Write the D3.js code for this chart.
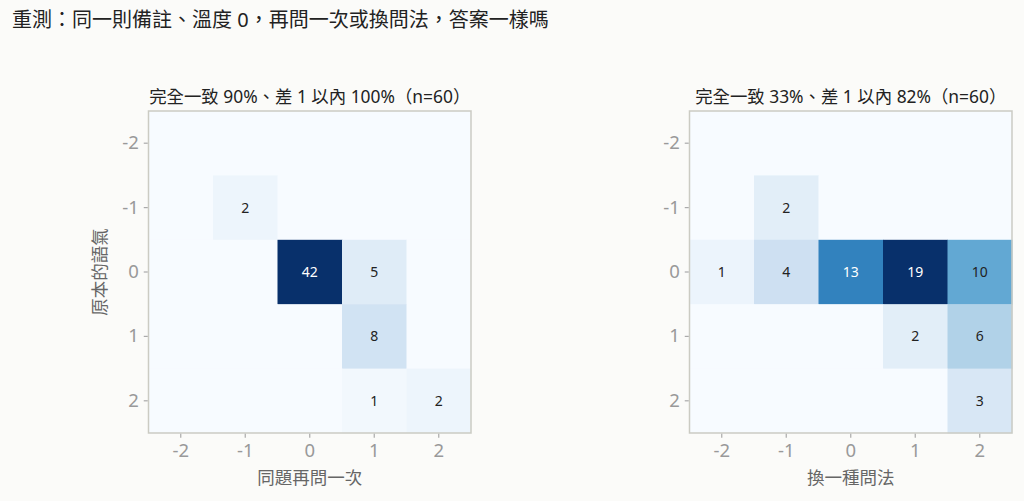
<!DOCTYPE html>
<html lang="zh-Hant-TW"><head><meta charset="utf-8">
<script src="https://cdn.jsdelivr.net/npm/d3@7"></script>
<style>
body{margin:0;background:#fbfbf9;}
svg{display:block;font-family:"Noto Sans","Noto Sans CJK TC",sans-serif;}
</style></head>
<body><svg id="c" width="1024" height="501" lang="zh-Hant-TW"></svg>
<script>
const title = "重測：同一則備註、溫度 0，再問一次或換問法，答案一樣嗎";
const levels = [-2, -1, 0, 1, 2];
const yLabel = "原本的語氣";
const leftTitle = "完全一致 90%、差 1 以內 100%（n=60）";
const leftXLabel = "同題再問一次";
// rows: original -2..2, cols: retest -2..2
const leftMatrix = [
  [0, 0, 0, 0, 0],
  [0, 2, 0, 0, 0],
  [0, 0, 42, 5, 0],
  [0, 0, 0, 8, 0],
  [0, 0, 0, 1, 2]
];
const rightTitle = "完全一致 33%、差 1 以內 82%（n=60）";
const rightXLabel = "換一種問法";
const rightMatrix = [
  [0, 0, 0, 0, 0],
  [0, 2, 0, 0, 0],
  [1, 4, 13, 19, 10],
  [0, 0, 0, 2, 6],
  [0, 0, 0, 0, 3]
];
const bluesStops = ["#f7fbff","#deebf7","#c6dbef","#9ecae1","#6baed6","#4292c6","#2171b5","#08519c","#08306b"];

const FONT = '"Noto Sans","Noto Sans CJK TC",sans-serif';
const svg = d3.select("#c");
svg.append("text").attr("x", 12).attr("y", 27).style("font-size", "20px").attr("fill", "#222").text(title);

function panel(x0, x1, y0, y1, matrix, sub, xlab, showY) {
  const g = svg.append("g");
  const x = d3.scaleBand().domain(levels).range([x0, x1]);
  const y = d3.scaleBand().domain(levels).range([y0, y1]);
  const vmax = d3.max(matrix.flat());
  const color = d3.scaleLinear()
    .domain(bluesStops.map((d, i) => i / (bluesStops.length - 1) * vmax))
    .range(bluesStops).interpolate(d3.interpolateRgb);
  const cells = [];
  matrix.forEach((row, i) => row.forEach((v, j) => cells.push({r: levels[i], c: levels[j], v})));
  g.selectAll("rect.cell").data(cells).join("rect")
    .attr("x", d => x(d.c)).attr("y", d => y(d.r))
    .attr("width", x.bandwidth() + 0.5).attr("height", y.bandwidth() + 0.5)
    .attr("fill", d => color(d.v));
  g.selectAll("text.val").data(cells.filter(d => d.v > 0)).join("text")
    .attr("x", d => x(d.c) + x.bandwidth() / 2).attr("y", d => y(d.r) + y.bandwidth() / 2)
    .attr("dy", "0.35em").attr("text-anchor", "middle").style("font-size", "14px")
    .attr("fill", d => d.v > vmax * 0.6 ? "#ffffff" : "#222")
    .text(d => d.v);
  g.append("rect").attr("x", x0).attr("y", y0).attr("width", x1 - x0).attr("height", y1 - y0)
    .attr("fill", "none").attr("stroke", "#cbcbc3").attr("stroke-width", 1.5);
  const xa = g.append("g").attr("transform", `translate(0,${y1 + 0.75})`)
    .call(d3.axisBottom(x).tickSize(4).tickPadding(6));
  const ya = g.append("g").attr("transform", `translate(${x0 - 0.75},0)`)
    .call(d3.axisLeft(y).tickSize(4).tickPadding(5));
  [xa, ya].forEach(a => {
    a.attr("font-size", null).attr("font-family", null);
    a.select(".domain").remove();
    a.selectAll("line").attr("stroke", "#aaa").attr("stroke-width", 1.2);
    a.selectAll("text").attr("fill", "#999").attr("font-size", 18.5).style("font-size", "18.5px").style("font-family", FONT);
  });
  g.append("text").attr("x", (x0 + x1) / 2).attr("y", 103).attr("text-anchor", "middle")
    .style("font-size", "17.4px").attr("fill", "#222").text(sub);
  g.append("text").attr("x", (x0 + x1) / 2).attr("y", 484).attr("text-anchor", "middle")
    .style("font-size", "17.5px").attr("fill", "#666").text(xlab);
  if (showY) {
    g.append("text").attr("transform", `translate(106,${(y0 + y1) / 2}) rotate(-90)`)
      .attr("text-anchor", "middle").style("font-size", "17.5px").attr("fill", "#666").text(yLabel);
  }
}
panel(148.5, 471, 111, 433, leftMatrix, leftTitle, leftXLabel, true);
panel(689.5, 1012, 111, 433, rightMatrix, rightTitle, rightXLabel, false);
</script></body></html>
